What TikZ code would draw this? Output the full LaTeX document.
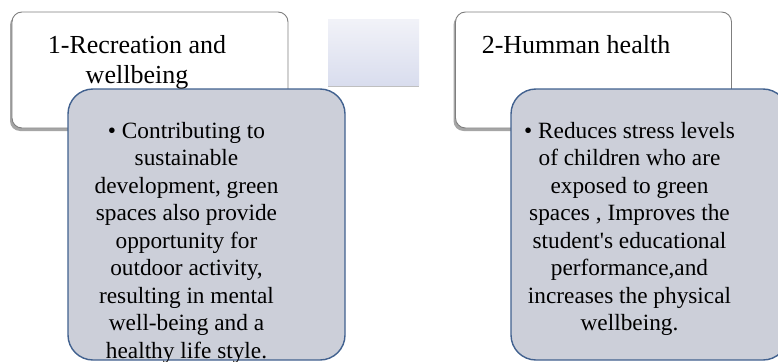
\documentclass[tikz,border=0pt]{standalone}
\usepackage{fontspec}
\setmainfont{Liberation Serif}[Ligatures=TeXOff]
\usetikzlibrary{shadows}
\definecolor{boxgray}{HTML}{CCCFD9}
\definecolor{boxblue}{HTML}{41618F}
\definecolor{framegray}{HTML}{7F7F7F}
\definecolor{midtop}{HTML}{F1F2F8}
\definecolor{midbot}{HTML}{D9DDEE}
\begin{document}
\begin{tikzpicture}[x=1pt,y=-1pt,
  whitebox/.style={draw=framegray, line width=0.9pt, fill=white, rounded corners=10pt,
    minimum width=276pt, minimum height=116pt, inner sep=0pt,
    drop shadow={shadow xshift=-2pt, shadow yshift=-3pt, fill=black, opacity=0.35}},
  detailbox/.style={draw=boxblue, line width=1.4pt, fill=boxgray, rounded corners=25pt,
    minimum width=277pt, minimum height=271pt, inner sep=0pt},
  midbox/.style={top color=midtop, bottom color=midbot, draw=none,
    minimum width=91pt, minimum height=65pt, inner sep=0pt,
    drop shadow={shadow xshift=0pt, shadow yshift=-2pt, fill=black, opacity=0.25}},
  titletext/.style={anchor=base, inner sep=0pt, font=\fontsize{26}{29.5}\selectfont},
  bodytext/.style={anchor=base, inner sep=0pt, font=\fontsize{23.3}{27.5}\selectfont}
]
\useasboundingbox (0,0) rectangle (778,361);
\clip (0,0) rectangle (778,361);
% white title boxes
\node[whitebox] (t1) at (150,70) {};
\node[whitebox] (t2) at (593.5,70) {};
% middle square
\node[midbox] (m) at (373.5,52.5) {};
% grey detail boxes
\node[detailbox] (d1) at (206.5,224.5) {};
\node[detailbox] (d2) at (649.5,224.5) {};
% titles
\node[titletext] (h1) at (137,54) {\begin{tabular}[t]{@{}c@{}}1-Recreation and\\wellbeing\end{tabular}};
\node[titletext] (h2) at (576,54) {\begin{tabular}[t]{@{}c@{}}2-Humman health\end{tabular}};
% bodies
\node[bodytext] (b1) at (186.5,138) {\begin{tabular}[t]{@{}c@{}}• Contributing to\\sustainable\\development, green\\spaces also provide\\opportunity for\\outdoor activity,\\resulting in mental\\well-being and a\\healthy life style.\end{tabular}};
\node[bodytext] (b2) at (629.5,138) {\begin{tabular}[t]{@{}c@{}}• Reduces stress levels\\of children who are\\exposed to green\\spaces , Improves the\\student's educational\\performance,and\\increases the physical\\wellbeing.\end{tabular}};
\end{tikzpicture}
\end{document}
